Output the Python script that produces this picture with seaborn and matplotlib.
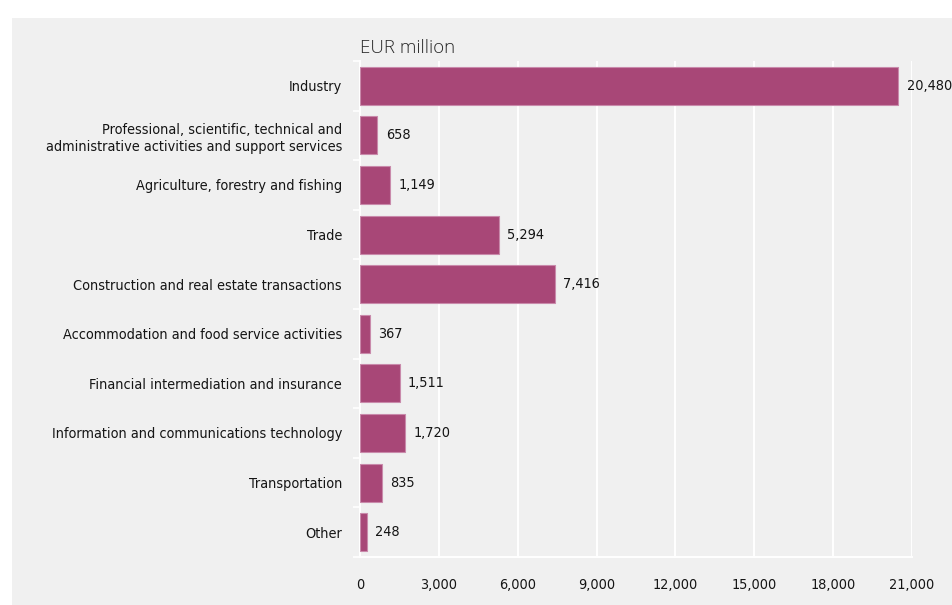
import matplotlib
matplotlib.use("Agg")
import matplotlib.pyplot as plt
from matplotlib import font_manager
from matplotlib.font_manager import FontProperties
from matplotlib.patches import Rectangle
from matplotlib.ticker import FixedLocator, FuncFormatter
import seaborn as sns
import pandas as pd

# Sectors and amounts (EUR million)
sectors = [
    "Industry",
    "Professional, scientific, technical and\nadministrative activities and support services",
    "Agriculture, forestry and fishing",
    "Trade",
    "Construction and real estate transactions",
    "Accommodation and food service activities",
    "Financial intermediation and insurance",
    "Information and communications technology",
    "Transportation",
    "Other",
]
amounts = [20480, 658, 1149, 5294, 7416, 367, 1511, 1720, 835, 248]
x_ticks = [0, 3000, 6000, 9000, 12000, 15000, 18000, 21000]
unit_label = "EUR million"

df = pd.DataFrame({"sector": sectors, "amount": amounts})

sns.set_theme(style="white")
plt.rcParams["font.family"] = ["Liberation Sans", "DejaVu Sans"]


def narrow_font_file():
    """Pick a condensed / narrow sans face if one is available."""
    ranked = []
    for f in font_manager.fontManager.ttflist:
        name = f.name.lower()
        path = f.fname.lower()
        if f.style != "normal" or f.weight not in (400, "normal", "regular"):
            continue
        if ("serif" in name and "sans" not in name) or "mono" in name:
            continue
        tag = name + " " + path + " " + str(f.stretch)
        if "extra" in tag or "ultra" in tag:
            continue
        if "semi" in tag and "condensed" in tag:
            score = 2
        elif "narrow" in tag or "condensed" in tag:
            score = 1
        else:
            continue
        ranked.append((score, f.fname))
    ranked.sort()
    return ranked[0][1] if ranked else None


nf = narrow_font_file()
if nf:
    LBL = FontProperties(fname=nf, size=10.4)
else:
    LBL = FontProperties(family=["Liberation Sans", "DejaVu Sans"], size=9.5)

BG = "#F0F0F0"
BAR = "#A84777"
TXT = "#151515"

W, H = 952, 605
fig = plt.figure(figsize=(W / 100, H / 100), dpi=100)
fig.patch.set_facecolor("white")
fig.add_artist(Rectangle((12 / W, 0), 1 - 12 / W, 1 - 18 / H,
                         transform=fig.transFigure, facecolor=BG,
                         edgecolor="none", zorder=-10))

ax = fig.add_axes([360 / W, 1 - 557 / H, (912 - 360) / W, (557 - 61) / H])
ax.set_facecolor(BG)

sns.barplot(data=df, x="amount", y="sector", orient="h", color=BAR,
            saturation=1, width=0.77, edgecolor="#C98AAB", linewidth=0.8,
            ax=ax, zorder=3)

ax.set_xlim(0, 21000)
ax.set_ylim(9.5, -0.5)
ax.xaxis.set_major_locator(FixedLocator(x_ticks))
ax.xaxis.set_major_formatter(FuncFormatter(lambda v, p: f"{int(v):,}"))
ax.grid(axis="x", color="white", linewidth=1.4, zorder=1)
ax.set_axisbelow(True)
ax.set_xlabel("")
ax.set_ylabel("")

for s in ["top", "right"]:
    ax.spines[s].set_visible(False)
for s in ["left", "bottom"]:
    ax.spines[s].set_color("white")
    ax.spines[s].set_linewidth(1.4)

ax.tick_params(axis="x", length=3, width=1.2, color="white", pad=12,
               labelcolor=TXT)
ax.tick_params(axis="y", which="major", length=0, pad=13, labelcolor=TXT)
ax.yaxis.set_minor_locator(FixedLocator([i - 0.5 for i in range(len(sectors) + 1)]))
ax.tick_params(axis="y", which="minor", length=5, width=1.2, color="white", left=True)
for lbl in ax.get_yticklabels():
    lbl.set_fontproperties(LBL)
    lbl.set_multialignment("right")
    lbl.set_linespacing(1.3)
for lbl in ax.get_xticklabels():
    lbl.set_fontproperties(LBL)

for i, v in enumerate(amounts):
    ax.annotate(f"{v:,}", xy=(v, i), xytext=(6, 0), textcoords="offset points",
                ha="left", va="center", fontproperties=LBL, color=TXT,
                annotation_clip=False)

ax.text(0, 1.008, unit_label, transform=ax.transAxes, ha="left", va="bottom",
        fontsize=13.5, color="#2A2A2A", family=["Open Sans", "DejaVu Sans"],
        fontweight="light")

fig.savefig("out.png", dpi=100, facecolor=fig.get_facecolor())
